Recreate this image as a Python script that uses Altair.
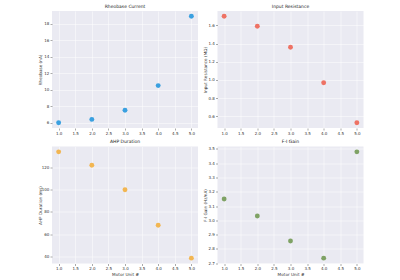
import altair as alt
import pandas as pd

motor_unit = [1, 2, 3, 4, 5]
rheobase = [6.0, 6.4, 7.5, 10.5, 18.9]
input_resistance = [1.70, 1.59, 1.36, 0.97, 0.53]
ahp_duration = [134, 122, 100, 68, 38.5]
fi_gain = [3.15, 3.03, 2.855, 2.735, 3.48]

x_ticks = [1.0, 1.5, 2.0, 2.5, 3.0, 3.5, 4.0, 4.5, 5.0]


def panel(values, title, ytitle, color, ydomain, yticks, yfmt, xtitle=None):
    df = pd.DataFrame({"mu": motor_unit, "v": values})
    x_axis = alt.Axis(values=x_ticks, format=".1f", title=xtitle) if xtitle else alt.Axis(values=x_ticks, format=".1f", title=None)
    return (
        alt.Chart(df, title=alt.Title(title))
        .mark_circle(size=24, opacity=1, color=color)
        .encode(
            x=alt.X("mu:Q", scale=alt.Scale(domain=[0.8, 5.2], nice=False, zero=False), axis=x_axis),
            y=alt.Y("v:Q", scale=alt.Scale(domain=ydomain, nice=False, zero=False),
                    axis=alt.Axis(values=yticks, format=yfmt, title=ytitle, minExtent=8, maxExtent=8)),
        )
        .properties(width=146, height=117)
    )


p1 = panel(rheobase, "Rheobase Current", "Rheobase (nA)", "#3aa0e0",
           [5.355, 19.545], [6, 8, 10, 12, 14, 16, 18], "d")
p2 = panel(input_resistance, "Input Resistance", "Input Resistance (MΩ)", "#ee7264",
           [0.4715, 1.7585], [0.6, 0.8, 1.0, 1.2, 1.4, 1.6], ".1f")
p3 = panel(ahp_duration, "AHP Duration", "AHP Duration (ms)", "#f2b652",
           [33.7, 138.8], [40, 60, 80, 100, 120], "d", "Motor Unit #")
p4 = panel(fi_gain, "F-I Gain", "F-I Gain (Hz/nA)", "#7fa265",
           [2.6975, 3.5175], [2.7, 2.8, 2.9, 3.0, 3.1, 3.2, 3.3, 3.4, 3.5], ".1f", "Motor Unit #")

chart = (
    alt.concat(p1, p2, p3, p4, columns=2, spacing={"row": 18.5, "column": 19.5}, bounds="flush")
    .resolve_scale(x="independent", y="independent")
    .properties(
        background="white",
        padding={"left": 38, "top": 3, "right": 0, "bottom": 0},
    )
    .configure_view(fill="#eaeaf2", stroke=None)
    .configure_axis(
        labelFont="DejaVu Sans",
        titleFont="DejaVu Sans",
        labelFontSize=4,
        titleFontSize=4.2,
        titleFontWeight="normal",
        labelColor="#333333",
        titleColor="#333333",
        grid=True,
        gridColor="white",
        gridWidth=0.5,
        domain=False,
        ticks=True,
        tickSize=2,
        tickColor="#555555",
        tickWidth=0.5,
        labelPadding=1.2,
        titlePadding=2,
    )
    .configure_title(font="DejaVu Sans", fontSize=4.5, fontWeight="normal", color="#262626", offset=3)
)

chart.save("out.html", embed_options={"renderer": "svg", "actions": False})
